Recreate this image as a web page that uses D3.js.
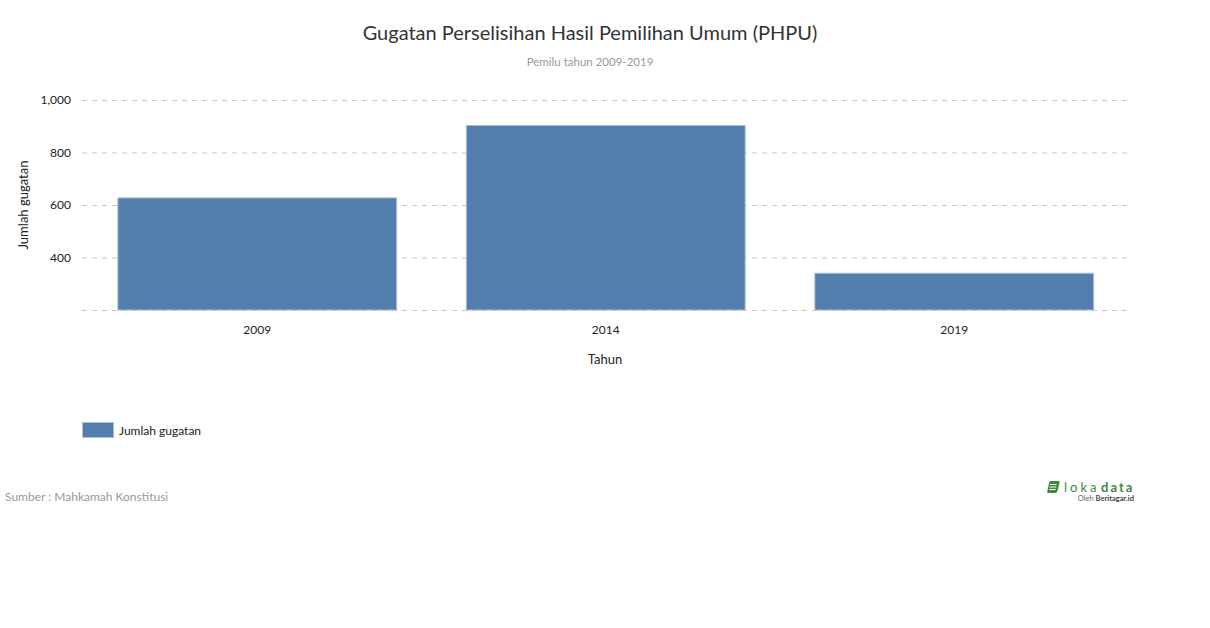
<!DOCTYPE html>
<html><head><meta charset="utf-8">
<script src="https://cdn.jsdelivr.net/npm/d3@7"></script>
<style>body{margin:0;background:#fff;font-family:Lato,"Open Sans",sans-serif}</style>
</head><body><svg id="c" width="1210" height="628"></svg>
<script>
const categories = ["2009","2014","2019"];
const values = [627, 903, 340];
const yTicks = [200, 400, 600, 800, 1000];
const seriesName = "Jumlah gugatan";

const svg = d3.select("#c");
const m = {l:82, r:1127, t:100, b:310};
const x = d3.scaleBand().domain(categories).range([m.l + 1, m.r + 1.5]).paddingInner(0.2).paddingOuter(0.1);
const y = d3.scaleLinear().domain([200, 1000]).range([m.b, m.t]);

svg.append("text").attr("x",590).attr("y",40).attr("text-anchor","middle")
  .attr("font-size",20).attr("fill","#333").text("Gugatan Perselisihan Hasil Pemilihan Umum (PHPU)");
svg.append("text").attr("x",590).attr("y",66).attr("text-anchor","middle")
  .attr("font-size",11.5).attr("fill","#999").text("Pemilu tahun 2009-2019");

// grid
svg.append("g").selectAll("line").data(yTicks).join("line")
  .attr("x1",m.l).attr("x2",m.r).attr("y1",d=>y(d)+0.5).attr("y2",d=>y(d)+0.5)
  .attr("stroke","#c8c8c8").attr("stroke-dasharray","5,5");

const yAxis = d3.axisLeft(y).tickValues(yTicks.filter(d=>d>200)).tickSize(0).tickPadding(11).tickFormat(d3.format(","));
svg.append("g").attr("transform",`translate(${m.l},0)`).call(yAxis)
  .call(g=>g.select(".domain").remove())
  .call(g=>g.selectAll("text").attr("font-family","Lato").attr("font-size",12).attr("fill","#222"));

svg.append("g").selectAll("rect").data(values).join("rect")
  .attr("x",(d,i)=>x(categories[i])).attr("width",x.bandwidth())
  .attr("y",d=>y(d)).attr("height",d=>y(200)-y(d))
  .attr("fill","#527dad").attr("stroke","#a9c0da").attr("stroke-width",1);

const xAxis = d3.axisBottom(x).tickSize(0).tickPadding(15);
svg.append("g").attr("transform",`translate(0,${m.b})`).call(xAxis)
  .call(g=>g.select(".domain").remove())
  .call(g=>g.selectAll("text").attr("font-family","Lato").attr("font-size",12).attr("fill","#222"));

svg.append("text").attr("x",605).attr("y",364).attr("text-anchor","middle")
  .attr("font-size",13).attr("fill","#222").text("Tahun");
svg.append("text").attr("transform","translate(28,205) rotate(-90)").attr("text-anchor","middle")
  .attr("font-size",13).attr("fill","#222").text("Jumlah gugatan");

// legend
svg.append("rect").attr("x",82.5).attr("y",422.5).attr("width",31).attr("height",15)
  .attr("fill","#527dad").attr("stroke","#a9c0da");
svg.append("text").attr("x",119).attr("y",435).attr("font-size",12).attr("fill","#222").text(seriesName);

svg.append("text").attr("x",5).attr("y",501).attr("font-size",12).attr("fill","#999").text("Sumber : Mahkamah Konstitusi");

// logo
const lg = svg.append("g").attr("transform","translate(1047,481)");
lg.append("path").attr("d","M2,0 L12,0 Q13,0 12.5,2 L10.5,10 Q10,12 8,12 L1,12 Q0,12 0.3,10.5 L2,2 Q2.5,0 4,0 Z").attr("fill","#3d8a3f");
lg.append("g").attr("stroke","#fff").attr("stroke-width",1)
  .selectAll("line").data([3.5,6,8.5]).join("line")
  .attr("x1",d=>3.5-d*0.15).attr("x2",d=>10-d*0.15).attr("y1",d=>d).attr("y2",d=>d);
lg.append("text").attr("x",17).attr("y",11).attr("font-size",13).attr("fill","#3d8a3f").attr("letter-spacing",3).text("loka");
lg.append("text").attr("x",54).attr("y",11).attr("font-size",13).attr("font-weight","bold").attr("fill","#3d8a3f").attr("letter-spacing",2).text("data");
lg.append("text").attr("x",87).attr("y",20).attr("text-anchor","end").attr("font-size",7.5).attr("fill","#666").text("Oleh ")
  .append("tspan").attr("font-weight","bold").attr("fill","#444").text("Beritagar.id");
</script></body></html>
